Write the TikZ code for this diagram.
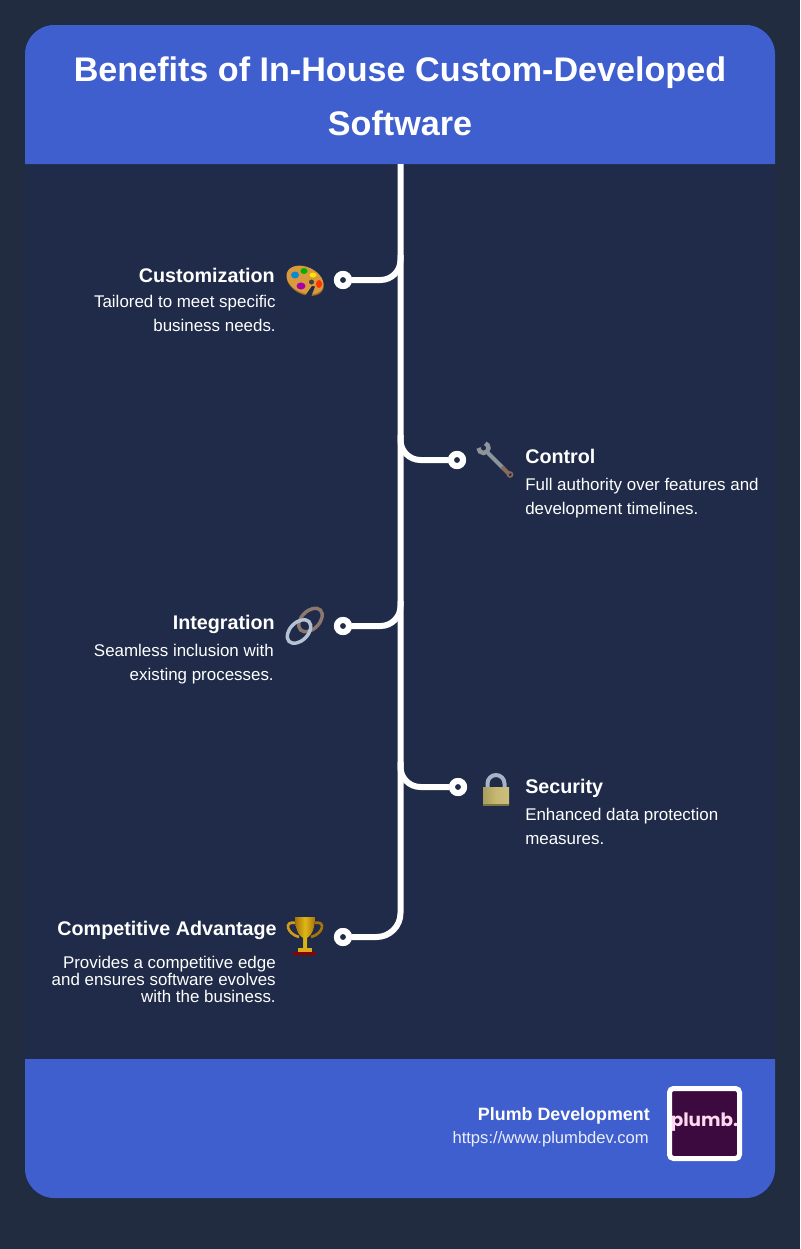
\documentclass[tikz,border=0pt]{standalone}
\usepackage{fontspec}
\setmainfont{Liberation Sans}
\newfontfamily\logofont{Poppins}
\definecolor{pagebg}{HTML}{222C40}
\definecolor{cardbg}{HTML}{1F2B48}
\definecolor{bandblue}{HTML}{3F5FCF}
\definecolor{plumbbg}{HTML}{3D0A3F}
\definecolor{woodtan}{HTML}{D89A3C}
\definecolor{wooddark}{HTML}{9A6A28}
\definecolor{steelgray}{HTML}{8E949C}
\definecolor{rustgray}{HTML}{8A6A5C}
\definecolor{brasslock}{HTML}{C6B870}
\definecolor{brassdark}{HTML}{7E7440}
\definecolor{shacklegray}{HTML}{A3B3C8}
\definecolor{goldcup}{HTML}{D09A1E}
\definecolor{golddark}{HTML}{A8720F}
\tikzset{
  spine/.style={draw=white, line width=4.5pt, rounded corners=15pt},
  dotmark/.style={circle, draw=white, fill=cardbg, line width=4.5pt, minimum size=9pt, inner sep=0pt},
  headtext/.style={font=\bfseries\fontsize{14.8}{18}\selectfont, text=white, inner sep=0pt},
  desctext/.style={font=\fontsize{12.7}{18}\selectfont, text=white, inner sep=0pt},
  titletext/.style={font=\bfseries\fontsize{25.6}{30}\selectfont, text=white, inner sep=0pt, anchor=base},
}
\begin{document}
\begin{tikzpicture}[x=0.75pt,y=-0.75pt]
\useasboundingbox (0,0) rectangle (800,1249);
\fill[pagebg] (0,0) rectangle (800,1249);
\fill[cardbg, rounded corners=22pt] (25,25) rectangle (775,1198);
\fill[bandblue] (25,164) [rounded corners=22pt] -- (25,25) -- (775,25) [sharp corners] -- (775,164) -- cycle;
\fill[bandblue] (25,1059) [rounded corners=22pt] -- (25,1198) -- (775,1198) [sharp corners] -- (775,1059) -- cycle;

\node (titleA) [titletext] at (400,81) {Benefits of In-House Custom-Developed};
\node (titleB) [titletext] at (400,135) {Software};

% timeline
\coordinate (top) at (400.5,164);
\coordinate (forkA) at (400.5,255);
\coordinate (forkB) at (400.5,435);
\coordinate (forkC) at (400.5,601);
\coordinate (forkD) at (400.5,762);
\node (dotA) [dotmark] at (343,280) {};
\node (dotB) [dotmark] at (457,460) {};
\node (dotC) [dotmark] at (343,626) {};
\node (dotD) [dotmark] at (458,787) {};
\node (dotE) [dotmark] at (343,937) {};
\draw[spine, rounded corners=18pt] (top) |- (dotE);
\draw[spine] (forkA) |- (dotA);
\draw[spine] (forkB) |- (dotB);
\draw[spine] (forkC) |- (dotC);
\draw[spine] (forkD) |- (dotD);
\node [dotmark] at (dotA) {};
\node [dotmark] at (dotB) {};
\node [dotmark] at (dotC) {};
\node [dotmark] at (dotD) {};
\node [dotmark] at (dotE) {};

% texts
\node (headA) [headtext, anchor=base east] at (275,282.5) {Customization};
\node (descA) [desctext, align=right, anchor=base east] at (276,331) {Tailored to meet specific\\business needs.};
\node (headB) [headtext, anchor=base west] at (525,463.5) {Control};
\node (descB) [desctext, align=left, anchor=base west] at (525,514) {Full authority over features and\\development timelines.};
\node (headC) [headtext, anchor=base east] at (275,629.5) {Integration};
\node (descC) [desctext, align=right, anchor=base east] at (274,680) {Seamless inclusion with\\existing processes.};
\node (headD) [headtext, anchor=base west] at (525,793.5) {Security};
\node (descD) [desctext, align=left, anchor=base west] at (525,844) {Enhanced data protection\\measures.};
\node (headE) [headtext, anchor=base east] at (277,935.5) {Competitive Advantage};
\node (descE) [desctext, align=right, anchor=base east, font=\fontsize{12.7}{12.75}\selectfont] at (276,1002) {Provides a competitive edge\\and ensures software evolves\\with the business.};

% palette
\fill[wooddark, rotate around={-25:(305,282)}] (305,281.5) ellipse (19.5 and 13);
\fill[woodtan, rotate around={-25:(305,280)}] (305,280) ellipse (19.5 and 13);
\fill[cardbg] (305,296) -- (312,286) -- (315,286.5) -- (311,297) -- cycle;
\fill[cyan!70!blue] (295,275) ellipse (4 and 3.5);
\fill[green!70!black] (304,271) ellipse (3.5 and 3);
\fill[yellow!85!orange] (313,275) ellipse (3.5 and 2.5);
\fill[red!60!orange] (319,284) ellipse (3 and 4);
\fill[violet!70!magenta] (301,286) ellipse (4.5 and 3.5);
\fill[black!75] (311.5,282) circle (2.5);

% wrench
\draw[line width=3pt, steelgray, line cap=round] (488,453) -- (503,468);
\draw[line width=3pt, rustgray, line cap=round] (503,468) -- (508,473);
\draw[line width=1.2pt, rustgray] (510,474.5) circle (2.5);
\draw[line width=3.3pt, steelgray] (483.5,448) ++(180:5) arc[start angle=180, end angle=-70, radius=5];

% link
\draw[line width=2.6pt, rustgray!70!steelgray, rotate around={45:(310.5,620)}] (310.5,620) ellipse (14 and 9);
\draw[line width=2.6pt, shacklegray!80!white, rotate around={45:(299,631.5)}] (299,631.5) ellipse (14 and 9);

% lock
\draw[line width=3pt, shacklegray] (487.5,788) -- (487.5,783.5) arc[start angle=180, end angle=360, radius=8.5] -- (504.5,788);
\fill[left color=brasslock!85!black, right color=brasslock!90!white, middle color=brasslock] (483,787) rectangle (509,804);
\fill[brassdark] (483,804) rectangle (509,805.5);

% trophy
\draw[line width=2pt, goldcup] (296,923) .. controls (283,920) and (287,934) .. (299,937);
\draw[line width=2pt, golddark] (314,923) .. controls (327,920) and (323,934) .. (311,937);
\fill[left color=golddark, right color=golddark, middle color=goldcup!70!yellow] (295,917) -- (315,917) .. controls (315,932) and (310,936) .. (307,938) -- (307,948) -- (303,948) -- (303,938) .. controls (300,936) and (295,932) .. (295,917) -- cycle;
\fill[goldcup!80!yellow] (298,947.5) rectangle (312,952);
\fill[red!55!black] (293,952) rectangle (316,955);

% footer
\node (brand) [text=white, inner sep=0pt, anchor=base east, font=\bfseries\fontsize{13.4}{16}\selectfont] at (650,1120.5) {Plumb Development};
\node (link) [text=white!90!bandblue, inner sep=0pt, anchor=base east, font=\fontsize{12.45}{14}\selectfont] at (649,1143) {https://www.plumbdev.com};
\node (logo) [draw=white, fill=plumbbg, line width=3.75pt, rounded corners=3pt, minimum size=52.5pt, inner sep=0pt] at (704.5,1123.5) {};
\node (logotext) [text=white!85!magenta, inner sep=0pt, font=\logofont\bfseries\fontsize{13.8}{16}\selectfont] at (704.5,1122) {plumb.};
\end{tikzpicture}
\end{document}
